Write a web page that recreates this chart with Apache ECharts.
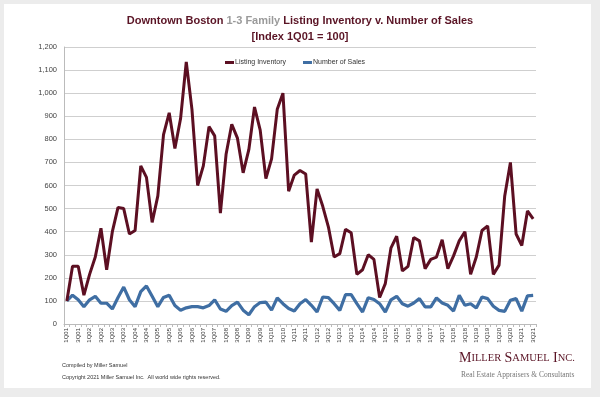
<!DOCTYPE html>
<html>
<head>
<meta charset="utf-8">
<script src="https://cdn.jsdelivr.net/npm/echarts@6/dist/echarts.min.js"></script>
<style>
  html, body { margin: 0; padding: 0; background: #ececec; }
  #chart { width: 600px; height: 397px; }
</style>
</head>
<body>
<div id="chart"></div>
<script>
// quarters 1Q01 .. 3Q21
const quarters = [];
for (let y = 1; y <= 21; y++) {
    for (let q = 1; q <= 4; q++) {
        if (y === 21 && q > 3) break;
        quarters.push(q + 'Q' + String(y).padStart(2, '0'));
    }
}

// Listing Inventory (index, 1Q01 = 100)
const listingInventory = [
    100, 250, 250, 125, 215, 290, 415, 235, 400, 505,
    500, 390, 405, 685, 635, 440, 555, 820, 915, 760,
    890, 1135, 930, 600, 685, 855, 815, 480, 735, 865,
    805, 655, 755, 940, 840, 630, 715, 930, 1000, 575,
    645, 665, 650, 355, 585, 510, 420, 290, 305, 410,
    395, 215, 235, 300, 280, 115, 175, 330, 380, 230,
    250, 375, 360, 240, 280, 290, 365, 240, 295, 360,
    400, 215, 290, 405, 425, 215, 255, 555, 700, 390,
    340, 490, 455,
];

// Number of Sales (index, 1Q01 = 100)
const numberOfSales = [
    100, 125, 105, 75, 105, 120, 90, 90, 65, 115,
    160, 105, 75, 140, 165, 120, 75, 115, 125, 80,
    60, 70, 75, 75, 70, 80, 105, 65, 55, 80,
    95, 60, 40, 75, 93, 95, 60, 113, 88, 67,
    56, 88, 106, 81, 52, 117, 114, 88, 59, 127,
    127, 88, 52, 114, 106, 88, 52, 105, 120, 88,
    77, 91, 110, 74, 74, 113, 91, 81, 56, 124,
    81, 88, 69, 117, 110, 77, 59, 55, 103, 110,
    56, 122, 124,
];

const chart = echarts.init(document.getElementById('chart'));

const option = {
    backgroundColor: '#ececec',
    animation: false,
    textStyle: { fontFamily: 'Liberation Sans, Arial, sans-serif' },
    graphic: [
        // white card
        {
            type: 'rect', z: -10,
            shape: { x: 4, y: 4, width: 587, height: 384 },
            style: { fill: '#ffffff' },
        },
        {
            type: 'text', left: 62, top: 362,
            style: { text: 'Compiled by Miller Samuel', fontSize: 5.5, fill: '#333', fontFamily: 'Liberation Sans' },
        },
        {
            type: 'text', left: 62, top: 374,
            style: { text: 'Copyright 2021 Miller Samuel Inc.  All world wide rights reserved.', fontSize: 5.5, fill: '#333', fontFamily: 'Liberation Sans' },
        },
        {
            type: 'text', left: 459, top: 351,
            style: {
                text: '{b|M}{s|ILLER} {b|S}{s|AMUEL} {b|I}{s|NC.}',
                rich: {
                    b: { fontSize: 14, fill: '#5a1425', fontFamily: 'Liberation Serif' },
                    s: { fontSize: 10.5, fill: '#5a1425', fontFamily: 'Liberation Serif' },
                },
            },
        },
        {
            type: 'text', left: 461, top: 371,
            style: { text: 'Real Estate Appraisers & Consultants', fontSize: 7.5, fill: '#777', fontFamily: 'Liberation Serif' },
        },
    ],
    title: [
        {
            left: 'center',
            top: 10,
            text: '{d|Downtown Boston }{g|1-3 Family}{d| Listing Inventory v. Number of Sales}',
            textStyle: {
                rich: {
                    d: { fontSize: 11, fontWeight: 'bold', color: '#5a1425' },
                    g: { fontSize: 11, fontWeight: 'bold', color: '#9a9a9a' },
                },
            },
        },
        {
            left: 'center',
            top: 26,
            text: '[Index 1Q01 = 100]',
            textStyle: { fontSize: 11, fontWeight: 'bold', color: '#5a1425' },
        },
    ],
    legend: {
        top: 54,
        left: 220,
        itemWidth: 9,
        itemHeight: 3,
        itemGap: 17,
        icon: 'rect',
        textStyle: { fontSize: 7, color: '#333', padding: [0, 0, 0, -4] },
        data: ['Listing Inventory', 'Number of Sales'],
    },
    grid: { left: 64, right: 64, top: 47, height: 277, containLabel: false },
    xAxis: {
        type: 'category',
        data: quarters,
        boundaryGap: true,
        axisLine: { lineStyle: { color: '#bbb', width: 1 } },
        axisTick: { show: true, interval: 0, length: 3, lineStyle: { color: '#bbb' } },
        axisLabel: { interval: 1, rotate: 90, fontSize: 6, color: '#333', margin: 4 },
    },
    yAxis: {
        type: 'value',
        min: 0,
        max: 1200,
        interval: 100,
        axisLine: { show: true, lineStyle: { color: '#bbb' } },
        axisTick: { show: false },
        splitLine: { lineStyle: { color: '#cfcfcf', width: 1 } },
        axisLabel: {
            fontSize: 7.5,
            color: '#444',
            margin: 7,
            formatter: (v) => v.toLocaleString('en-US'),
        },
    },
    series: [
        {
            name: 'Listing Inventory',
            type: 'line',
            data: listingInventory,
            showSymbol: false,
            symbol: 'none',
            color: '#5c0f22',
            lineStyle: { color: '#5c0f22', width: 3 },
            z: 3,
        },
        {
            name: 'Number of Sales',
            type: 'line',
            data: numberOfSales,
            showSymbol: false,
            symbol: 'none',
            color: '#3f6ea3',
            lineStyle: { color: '#3f6ea3', width: 3.2 },
            z: 2,
        },
    ],
};

chart.setOption(option);
</script>
</body>
</html>
